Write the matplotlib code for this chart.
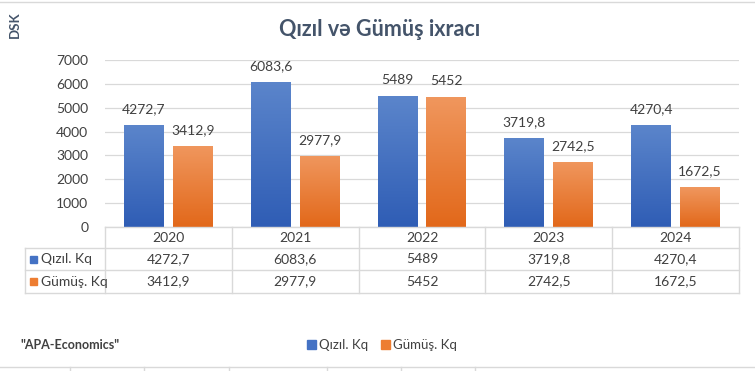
import numpy as np
import matplotlib.pyplot as plt
from matplotlib.colors import LinearSegmentedColormap
from matplotlib.patches import Patch, Rectangle
from matplotlib.lines import Line2D

plt.rcParams['font.family'] = ['Lato', 'DejaVu Sans']

# data
years = ['2020', '2021', '2022', '2023', '2024']
gold = [4272.7, 6083.6, 5489, 3719.8, 4270.4]
silver = [3412.9, 2977.9, 5452, 2742.5, 1672.5]
gold_txt = ['4272,7', '6083,6', '5489', '3719,8', '4270,4']
silver_txt = ['3412,9', '2977,9', '5452', '2742,5', '1672,5']
series = ['Qızıl. Kq', 'Gümüş. Kq']

W, H = 755, 371
fig = plt.figure(figsize=(W / 100, H / 100), dpi=100)

def fx(px):
    return px / W

def fy(py):
    return 1 - py / H

# plot area in pixels
x0, x1, ytop, ybot = 105, 739, 60, 227
ax = fig.add_axes([fx(x0), fy(ybot), fx(x1 - x0), fy(ytop) - fy(ybot)])

blue_cm = LinearSegmentedColormap.from_list('b', ['#2F5DB5', '#5B85CB'])
orange_cm = LinearSegmentedColormap.from_list('o', ['#E2681A', '#F0975E'])
grad = np.linspace(0, 1, 256).reshape(-1, 1)

x = np.arange(len(years))
bw = 0.315
gap = 0.07
txtc = '#404040'
for vals, labels, off, cm, base in [(gold, gold_txt, -(bw + gap) / 2, blue_cm, '#4472C4'),
                                    (silver, silver_txt, (bw + gap) / 2, orange_cm, '#ED7D31')]:
    bars = ax.bar(x + off, vals, width=bw, color=base, zorder=2)
    for b, v, t in zip(bars, vals, labels):
        im = ax.imshow(grad, cmap=cm, origin='lower', aspect='auto', zorder=3,
                       extent=[b.get_x(), b.get_x() + bw, 0, v])
        im.set_clip_path(b)
        ax.annotate(t, (b.get_x() + bw / 2, v), xytext=(0, 7), textcoords='offset points',
                    ha='center', va='bottom', fontsize=10, color=txtc)

ax.set_xlim(-0.5, len(years) - 0.5)
ax.set_ylim(0, 7000)
ax.set_yticks(range(0, 7001, 1000))
ax.tick_params(axis='y', length=0, labelsize=10, labelcolor=txtc, pad=12)
ax.set_xticks([])
ax.grid(axis='y', color='#D9D9D9', lw=0.9, zorder=0)
for s in ax.spines.values():
    s.set_visible(False)

# data table below the plot
lc = '#D9D9D9'
rows = [ybot, 248, 270, 293]
colw = (x1 - x0) / len(years)
fig.add_artist(Line2D([fx(x0), fx(x1)], [fy(rows[0])] * 2, color=lc, lw=1))
for r in rows[1:]:
    fig.add_artist(Line2D([fx(25), fx(x1)], [fy(r)] * 2, color=lc, lw=1))
fig.add_artist(Line2D([fx(25), fx(25)], [fy(rows[1]), fy(rows[3])], color=lc, lw=1))
for i in range(len(years) + 1):
    xx = x0 + i * colw
    fig.add_artist(Line2D([fx(xx)] * 2, [fy(rows[0]), fy(rows[3])], color=lc, lw=1))

for i, y in enumerate(years):
    cx = fx(x0 + (i + 0.5) * colw)
    fig.text(cx, fy((rows[0] + rows[1]) / 2), y, ha='center', va='center', fontsize=10, color=txtc)
    fig.text(cx, fy((rows[1] + rows[2]) / 2), gold_txt[i], ha='center', va='center', fontsize=10, color=txtc)
    fig.text(cx, fy((rows[2] + rows[3]) / 2), silver_txt[i], ha='center', va='center', fontsize=10, color=txtc)

for j, (name, c) in enumerate(zip(series, ['#4472C4', '#ED7D31'])):
    ry = (rows[j + 1] + rows[j + 2]) / 2
    fig.add_artist(Rectangle((fx(30), fy(ry + 3.5)), fx(7), fy(0) - fy(7), color=c))
    fig.text(fx(41), fy(ry), name, ha='left', va='center', fontsize=10, color=txtc)

# title and side texts
fig.text(0.503, fy(30), 'Qızıl və Gümüş ixracı', ha='center', va='center',
         fontsize=15.5, fontweight='bold', color='#44546A')
fig.text(fx(15), fy(25), 'DSK', rotation=90, ha='center', va='center',
         fontsize=9.5, fontweight='bold', color='#44546A')
fig.text(fx(20), fy(345), '"APA-Economics"', ha='left', va='center',
         fontsize=9, fontweight='bold', color='#404040')

handles = [Patch(color=c) for c in ['#4472C4', '#ED7D31']]
fig.legend(handles, series, loc='center', bbox_to_anchor=(fx(382), fy(345)), ncol=2,
           frameon=False, fontsize=9.5, handlelength=0.65, handleheight=0.65,
           handletextpad=0.25, columnspacing=1.0, labelcolor=txtc)

# frame lines of the page
fig.add_artist(Line2D([0, 1], [fy(1.5)] * 2, color='#D9D9D9', lw=1))
fig.add_artist(Line2D([0, 1], [fy(367)] * 2, color='#D9D9D9', lw=1))
for t in [70, 144, 229, 327, 401, 475]:
    fig.add_artist(Line2D([fx(t)] * 2, [fy(367), 0], color='#D9D9D9', lw=1))

fig.savefig('out.png', dpi=100)
